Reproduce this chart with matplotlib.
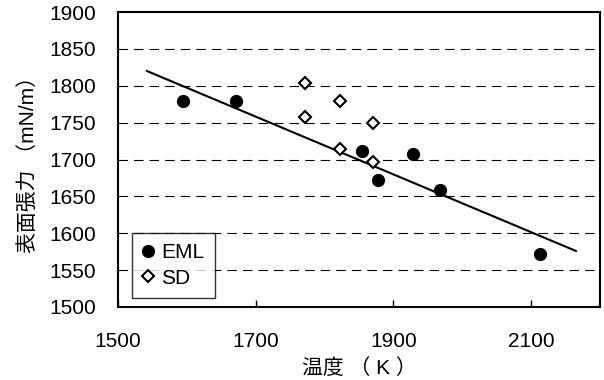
import matplotlib
matplotlib.use('Agg')
import matplotlib.pyplot as plt

plt.rcParams['font.family'] = ['Liberation Sans', 'Noto Sans CJK JP', 'DejaVu Sans']

# EML data (filled circles)
eml_T = [1594, 1672, 1855, 1878, 1928, 1968, 2113]
eml_s = [1780, 1780, 1712, 1672, 1707, 1659, 1572]

# SD data (open diamonds)
sd_T = [1772, 1772, 1822, 1822, 1871, 1871]
sd_s = [1804, 1757, 1779, 1714, 1749, 1697]

# fitted line end points
fit_T = [1542, 2165]
fit_s = [1820, 1576]

xticks = [1500, 1700, 1900, 2100]
yticks = [1500, 1550, 1600, 1650, 1700, 1750, 1800, 1850, 1900]

fig = plt.figure(figsize=(6.04, 3.8), dpi=100)
ax = fig.add_axes([118/604, 1-307/380, (600-118)/604, (307-12)/380])

for y in yticks[1:-1]:
    ax.axhline(y, color='black', lw=0.8, dashes=(8.5, 5.5), zorder=1)

ax.plot(fit_T, fit_s, color='black', lw=1.5, zorder=2)
ax.plot(eml_T, eml_s, 'o', color='black', ms=8.5, ls='none', label='EML', zorder=3)
ax.plot(sd_T, sd_s, 'D', mfc='white', mec='black', mew=1.5, ms=6, ls='none', label='SD', zorder=3)

ax.set_xlim(1500, 2200)
ax.set_ylim(1500, 1900)
ax.set_xticks(xticks)
ax.set_yticks(yticks)
ax.tick_params(axis='x', direction='in', length=5, width=1, pad=18, labelsize=15)
ax.tick_params(axis='y', direction='in', length=0, pad=16, labelsize=15)
for s in ax.spines.values():
    s.set_linewidth(1.5)

ax.set_xlabel('温度 （ K ）', fontsize=15, labelpad=5)
ax.set_ylabel('表面張力 （mN/m）', fontsize=15, labelpad=8)

leg = ax.legend(loc='lower left', bbox_to_anchor=(0.029, 0.03), fontsize=15, frameon=True,
                fancybox=False, edgecolor='black', handletextpad=0.4, handlelength=0.5,
                borderpad=0.5, labelspacing=0.3, borderaxespad=0)
leg.get_frame().set_linewidth(1.0)

fig.savefig('out.png', dpi=100)
